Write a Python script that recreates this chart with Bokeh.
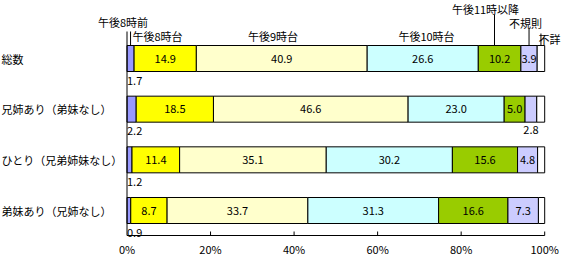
import numpy as np
from bokeh.plotting import figure
from bokeh.models import Range1d, ColumnDataSource
from bokeh.core.properties import value
from bokeh.embed import file_html
from bokeh.resources import INLINE

# ---------------- data ----------------
categories = ["総数", "兄姉あり（弟妹なし）", "ひとり（兄弟姉妹なし）", "弟妹あり（兄姉なし）"]
series = ["午後8時前", "午後8時台", "午後9時台", "午後10時台", "午後11時以降", "不規則", "不詳"]
before_8 = [1.7, 2.2, 1.2, 0.9]
hour_8 = [14.9, 18.5, 11.4, 8.7]
hour_9 = [40.9, 46.6, 35.1, 33.7]
hour_10 = [26.6, 23.0, 30.2, 31.3]
after_11 = [10.2, 5.0, 15.6, 16.6]
irregular = [3.9, 2.8, 4.8, 7.3]
unknown = [1.8, 1.9, 1.7, 1.5]
x_ticks = [0, 20, 40, 60, 80, 100]
x_tick_labels = ["0%", "20%", "40%", "60%", "80%", "100%"]

colors = ["#9999FF", "#FFFF00", "#FFFFCC", "#CCFFFF", "#99CC00", "#CCCCFF", "#FFFFFF"]
FONT = value("Noto Sans CJK JP")
FS = "11px"

# ---------------- geometry ----------------
W, H = 561, 256
X0_PX, X100_PX = 126.5, 544.2
PXX = (X100_PX - X0_PX) / 100.0
ROW0_PX, PITCH = 58.0, 50.67
BAR_H = 26.0 / PITCH


def dx(px):
    return (px - X0_PX) / PXX


def dy(py):
    return (py - ROW0_PX) / PITCH


p = figure(width=W, height=H, output_backend="svg", toolbar_location=None,
           x_range=Range1d(dx(0), dx(W)), y_range=Range1d(dy(H), dy(0)),
           min_border=0, x_axis_type=None, y_axis_type=None)
p.xgrid.visible = False
p.ygrid.visible = False
p.outline_line_color = None
p.background_fill_color = "white"
p.border_fill_color = "white"

data = [before_8, hour_8, hour_9, hour_10, after_11, irregular, unknown]
rows = np.arange(len(categories))
lefts = np.zeros(len(categories))
seg_centers = []
for si, vals in enumerate(data):
    vals = np.array(vals, dtype=float)
    rights = lefts + vals
    src = ColumnDataSource(dict(y=rows, left=lefts, right=rights))
    p.hbar(y="y", left="left", right="right", height=BAR_H, source=src,
           fill_color=colors[si], line_color="black", line_width=1)
    seg_centers.append((lefts + rights) / 2)
    # value labels
    if si == 0:
        p.text(x=list(lefts), y=list(rows), text=[f"{v:.1f}" for v in vals],
               text_font=FONT, text_font_size=FS, text_align="left",
               text_baseline="middle", y_offset=22, x_offset=0, text_color="black")
    elif si < len(data) - 1:
        inside = vals >= 3.0
        cx = ((lefts + rights) / 2)
        if inside.any():
            p.text(x=list(cx[inside]), y=list(rows[inside]),
                   text=[f"{v:.1f}" for v in vals[inside]],
                   text_font=FONT, text_font_size=FS, text_align="center",
                   text_baseline="middle", text_color="black")
        out = ~inside
        if out.any():
            p.text(x=list(cx[out]), y=list(rows[out]),
                   text=[f"{v:.1f}" for v in vals[out]],
                   text_font=FONT, text_font_size=FS, text_align="center",
                   text_baseline="middle", y_offset=21, text_color="black")
    lefts = rights

# category labels
p.text(x=[dx(1)] * len(categories), y=list(rows), text=categories,
       text_font=FONT, text_font_size=FS, text_align="left",
       text_baseline="middle", text_color="black")

# axes (drawn)
axis_y = dy(235)
p.segment(x0=[0], y0=[axis_y], x1=[100], y1=[axis_y], line_color="black", line_width=1)
p.segment(x0=[0], y0=[dy(31)], x1=[0], y1=[axis_y], line_color="black", line_width=1)
p.segment(x0=x_ticks[1:], y0=[dy(231)] * 5, x1=x_ticks[1:], y1=[axis_y] * 5,
          line_color="black", line_width=1)
p.text(x=x_ticks, y=[dy(248)] * len(x_ticks), text=x_tick_labels,
       text_font=FONT, text_font_size=FS, text_align="center",
       text_baseline="middle", text_color="black")

# series header labels with leader lines (pointing at 総数 segments)
top0 = -BAR_H / 2
c0 = [c[0] for c in seg_centers]
leader_x = [c0[0], dx(494), c0[5], c0[6]]
leader_top = [dy(31), dy(14), dy(28), dy(33)]
p.segment(x0=leader_x, y0=leader_top, x1=leader_x, y1=[top0] * 4,
          line_color="black", line_width=1)

hdr_x = [dx(122.5), dx(132), dx(272.5), dx(426), dx(485), dx(525), dx(560)]
hdr_y = [dy(21), dy(35), dy(35), dy(35), dy(8), dy(22), dy(38)]
hdr_align = ["center", "left", "center", "center", "center", "center", "right"]
for t, x, y, a in zip(series, hdr_x, hdr_y, hdr_align):
    p.text(x=[x], y=[y], text=[t], text_font=FONT, text_font_size=FS,
           text_align=a, text_baseline="middle", text_color="black")

open("out.html", "w").write(file_html(p, INLINE))
